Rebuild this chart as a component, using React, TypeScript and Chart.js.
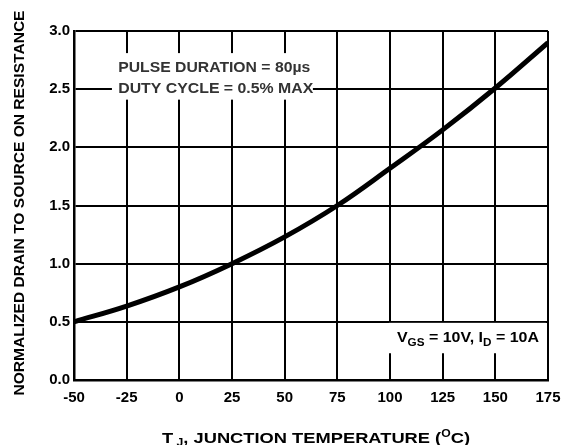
import React, { useEffect, useRef } from "react";
import { Chart, registerables } from "chart.js";

Chart.register(...registerables);

const temperatures = [-50, -25, 0, 25, 50, 75, 100, 125, 150, 175];
const normalizedRds = [0.5, 0.635, 0.8, 1.0, 1.23, 1.5, 1.82, 2.15, 2.51, 2.9];
const xTickRange = { min: -50, max: 175, step: 25 };
const yTickRange = { min: 0, max: 3, step: 0.5 };
const yTitle = "NORMALIZED DRAIN TO SOURCE ON RESISTANCE";
const noteLines = ["PULSE DURATION = 80\u00b5s", "DUTY CYCLE = 0.5% MAX"];

type Seg = { t: string; size: number; dy: number };

function drawRich(ctx: CanvasRenderingContext2D, segs: Seg[], x: number, y: number, target: number, color: string) {
  let natural = 0;
  for (const s of segs) {
    ctx.font = `bold ${s.size}px "Liberation Sans", Arial, sans-serif`;
    natural += ctx.measureText(s.t).width;
  }
  const sx = target / natural;
  ctx.save();
  ctx.translate(x, y);
  ctx.scale(sx, 1);
  ctx.fillStyle = color;
  ctx.textBaseline = "alphabetic";
  ctx.textAlign = "left";
  let cx = 0;
  for (const s of segs) {
    ctx.font = `bold ${s.size}px "Liberation Sans", Arial, sans-serif`;
    ctx.fillText(s.t, cx, s.dy);
    cx += ctx.measureText(s.t).width;
  }
  ctx.restore();
}

const textPlugin = {
  id: "textPlugin",
  afterDatasetsDraw(chart: any) {
    const ctx: CanvasRenderingContext2D = chart.ctx;
    const xs = chart.scales.x;
    const ys = chart.scales.y;
    const px = (v: number) => xs.getPixelForValue(v);
    const py = (v: number) => ys.getPixelForValue(v);

    ctx.save();
    // note box 1
    const b1l = px(-32), b1r = px(63.4), b1t = py(2.81), b1b = py(2.41);
    ctx.fillStyle = "#ffffff";
    ctx.fillRect(b1l, b1t, b1r - b1l, b1b - b1t);
    drawRich(ctx, [{ t: noteLines[0], size: 15, dy: 0 }], px(-29), py(2.65), 192, "#333333");
    drawRich(ctx, [{ t: noteLines[1], size: 15, dy: 0 }], px(-29), py(2.47), 195, "#333333");

    // note box 2
    const b2l = px(99.5), b2r = px(174), b2t = py(0.5) + 1, b2b = py(0.23);
    ctx.fillStyle = "#ffffff";
    ctx.fillRect(b2l, b2t, b2r - b2l, b2b - b2t);
    drawRich(
      ctx,
      [
        { t: "V", size: 15, dy: 0 },
        { t: "GS", size: 11, dy: 4 },
        { t: " = 10V, I", size: 15, dy: 0 },
        { t: "D", size: 11, dy: 4 },
        { t: " = 10A", size: 15, dy: 0 },
      ],
      px(103.3),
      py(0.327),
      142,
      "#000000"
    );

    // y axis title
    ctx.save();
    ctx.translate(24, 203);
    ctx.rotate(-Math.PI / 2);
    drawRich(ctx, [{ t: yTitle, size: 15, dy: 0 }], -385 / 2, 0, 385, "#000000");
    ctx.restore();

    // x axis title
    drawRich(
      ctx,
      [
        { t: "T", size: 15, dy: 0 },
        { t: " J", size: 10, dy: 3 },
        { t: ", JUNCTION TEMPERATURE (", size: 15, dy: 0 },
        { t: "O", size: 10, dy: -6 },
        { t: "C)", size: 15, dy: 0 },
      ],
      162,
      443,
      308,
      "#000000"
    );
    ctx.restore();
  },
};

export default function App() {
  const ref = useRef<HTMLCanvasElement | null>(null);
  useEffect(() => {
    document.body.style.margin = "0";
    const canvas = ref.current!;
    const chart = new Chart(canvas, {
      type: "line",
      data: {
        labels: temperatures,
        datasets: [
          {
            data: temperatures.map((t, i) => ({ x: t, y: normalizedRds[i] })),
            borderColor: "#000000",
            borderWidth: 5,
            pointRadius: 0,
            tension: 0.4,
            fill: false,
          },
        ],
      },
      options: {
        responsive: false,
        animation: false,
        devicePixelRatio: 1,
        layout: { padding: { top: 31, right: 15, left: 0, bottom: 0 } },
        plugins: { legend: { display: false }, tooltip: { enabled: false } },
        scales: {
          x: {
            type: "linear",
            min: xTickRange.min,
            max: xTickRange.max,
            ticks: {
              stepSize: xTickRange.step,
              color: "#000000",
              padding: 9,
              font: { family: '"Liberation Sans", Arial, sans-serif', size: 15, weight: "bold" },
              maxRotation: 0,
              autoSkip: false,
            },
            grid: { color: "#000000", lineWidth: 2, drawTicks: false },
            border: { color: "#000000", width: 2.5 },
            afterFit: (s: any) => {
              s.height = 65;
              s.paddingRight = 0;
              s.paddingLeft = 0;
            },
          },
          y: {
            min: yTickRange.min,
            max: yTickRange.max,
            ticks: {
              stepSize: yTickRange.step,
              color: "#000000",
              padding: 4,
              font: { family: '"Liberation Sans", Arial, sans-serif', size: 15, weight: "bold" },
              callback: (v: any) => Number(v).toFixed(1),
            },
            grid: { color: "#000000", lineWidth: 2, drawTicks: false },
            border: { color: "#000000", width: 2.5 },
            afterFit: (s: any) => {
              s.width = 74;
              s.paddingTop = 0;
              s.paddingBottom = 0;
            },
          },
        },
      } as any,
      plugins: [textPlugin],
    });
    return () => chart.destroy();
  }, []);
  return (
    <div style={{ width: 563, height: 445, background: "#ffffff" }}>
      <canvas ref={ref} width={563} height={445} style={{ width: 563, height: 445, display: "block" }} />
    </div>
  );
}
